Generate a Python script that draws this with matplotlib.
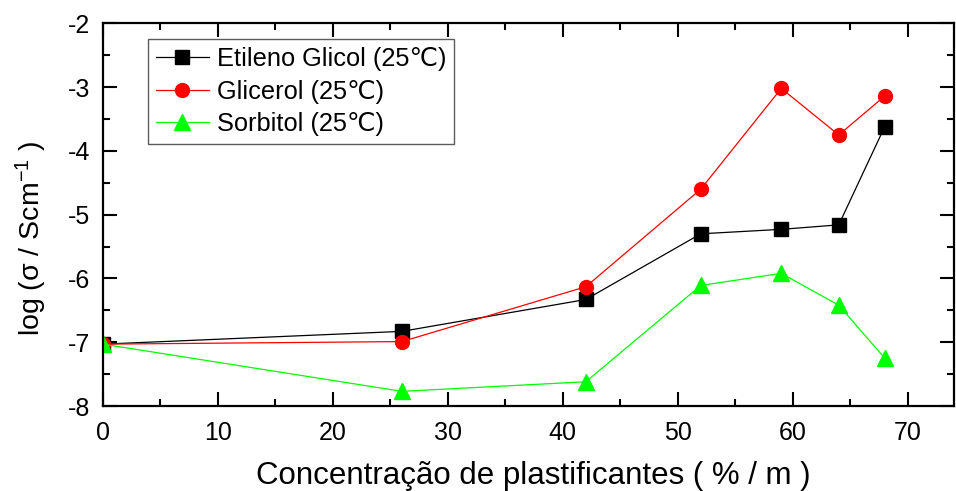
import numpy as np
import matplotlib
matplotlib.use('Agg')
from matplotlib import pyplot as plt
from matplotlib.ticker import MultipleLocator

## plasticizer concentration (% / m)
conc = [0, 26, 42, 52, 59, 64, 68]

## log conductivity for each plasticizer
etileno = [-7.03, -6.83, -6.33, -5.30, -5.23, -5.16, -3.62]
glicerol = [-7.03, -6.99, -6.13, -4.60, -3.02, -3.75, -3.14]
sorbitol = [-7.03, -7.77, -7.62, -6.11, -5.92, -6.42, -7.25]

labels = ['Etileno Glicol (25\u2103)', 'Glicerol (25\u2103)', 'Sorbitol (25\u2103)']

plt.rcParams['font.family'] = ['Liberation Sans', 'DejaVu Sans']
plt.rcParams['mathtext.fontset'] = 'custom'
plt.rcParams['mathtext.rm'] = 'Liberation Sans'
plt.rcParams['mathtext.default'] = 'regular'
plt.rcParams['axes.unicode_minus'] = False

fig = plt.figure(figsize=[9.56, 4.91], dpi=100)
ax = fig.add_axes([0.1077, 0.1731, 0.8899, 0.7794])

ax.plot(conc, etileno, color='black', marker='s', markersize=9.5, linewidth=0.9, label=labels[0])
ax.plot(conc, glicerol, color='#ff0000', marker='o', markersize=10, linewidth=0.9, label=labels[1])
ax.plot(conc, sorbitol, color='#00ff00', marker='^', markersize=11, linewidth=0.9, label=labels[2])

ax.set_xlim(0, 74)
ax.set_ylim(-8, -2)
ax.xaxis.set_major_locator(MultipleLocator(10))
ax.xaxis.set_minor_locator(MultipleLocator(5))
ax.yaxis.set_major_locator(MultipleLocator(1))
ax.yaxis.set_minor_locator(MultipleLocator(0.5))
ax.tick_params(which='both', direction='in', top=True, right=True, width=1.5, labelsize=18)
ax.tick_params(axis='x', pad=11)
ax.tick_params(axis='y', pad=9)
ax.tick_params(which='major', length=10)
ax.tick_params(which='minor', length=5)
for s in ax.spines.values():
    s.set_linewidth(1.6)

ax.set_xlabel('Concentração de plastificantes ( % / m )', fontsize=22.5)
ax.set_ylabel('log (\u03c3 / Scm$^{-1}$ )', fontsize=20.5)
ax.xaxis.set_label_coords(0.506, -0.143)
ax.yaxis.set_label_coords(-0.063, 0.438)

leg = ax.legend(loc='upper left', bbox_to_anchor=(0.053, 0.958), borderaxespad=0,
                fontsize=18.3, frameon=True, fancybox=False, handlelength=2.1,
                handletextpad=0.3, labelspacing=0.34, borderpad=0.3)
leg.get_frame().set_edgecolor('#333333')
leg.get_frame().set_linewidth(1.0)

plt.savefig('out.png', dpi=100)
plt.close()
